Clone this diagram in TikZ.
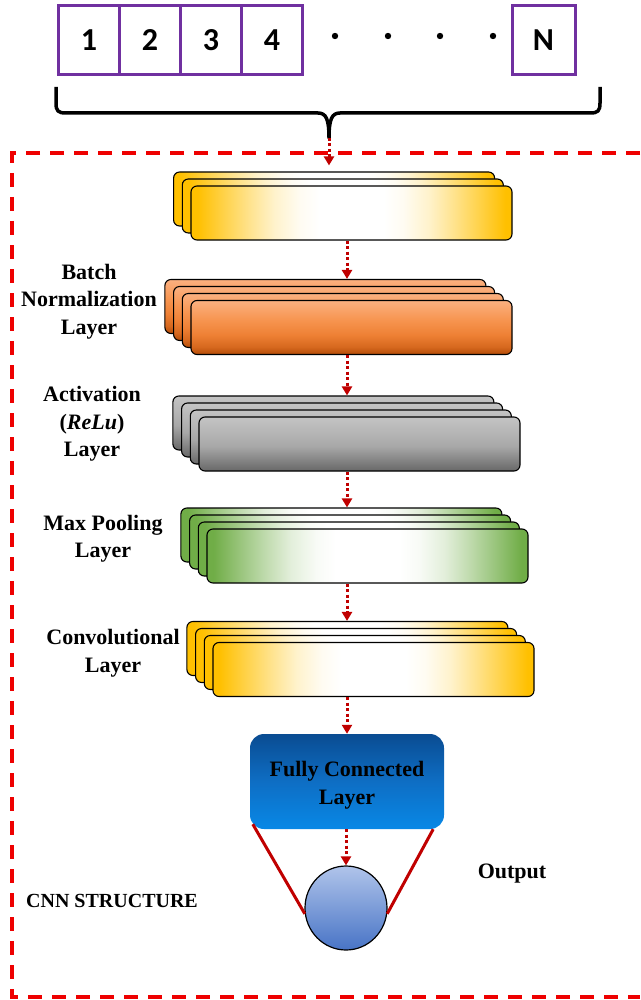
\documentclass[tikz,border=0pt]{standalone}
\usepackage{fontspec}
\setmainfont{Liberation Serif}
\newfontfamily\numfont{Carlito}
\usetikzlibrary{arrows.meta,shapes.geometric,calc}

% palette
\definecolor{boxpurple}{RGB}{112,48,160}
\definecolor{flowred}{RGB}{192,0,0}
\definecolor{frame}{RGB}{238,0,0}
\definecolor{gold}{RGB}{255,192,0}
\definecolor{leaf}{RGB}{112,173,71}
\definecolor{orA}{RGB}{251,176,128}
\definecolor{orB}{RGB}{247,150,82}
\definecolor{orC}{RGB}{238,128,52}
\definecolor{orD}{RGB}{214,104,30}
\definecolor{orE}{RGB}{180,76,8}
\definecolor{grA}{RGB}{196,196,196}
\definecolor{grB}{RGB}{168,168,168}
\definecolor{grC}{RGB}{104,104,104}
\definecolor{blA}{RGB}{10,76,146}
\definecolor{blB}{RGB}{14,110,196}
\definecolor{blC}{RGB}{8,136,230}
\definecolor{ciA}{RGB}{176,196,234}
\definecolor{ciB}{RGB}{72,116,198}

% shadings (the 25bp..75bp band is mapped onto the shaded box)
\pgfdeclarehorizontalshading{goldglow}{100bp}{color(0bp)=(gold); color(26bp)=(gold);
  color(30bp)=(gold!72!white); color(34bp)=(gold!45!white); color(38bp)=(gold!20!white);
  color(42bp)=(gold!5!white); color(45bp)=(white); color(55bp)=(white);
  color(58bp)=(gold!5!white); color(62bp)=(gold!20!white); color(66bp)=(gold!45!white);
  color(70bp)=(gold!72!white); color(74bp)=(gold); color(100bp)=(gold)}
\pgfdeclarehorizontalshading{leafglow}{100bp}{color(0bp)=(leaf); color(26bp)=(leaf);
  color(30bp)=(leaf!72!white); color(34bp)=(leaf!45!white); color(38bp)=(leaf!20!white);
  color(42bp)=(leaf!5!white); color(45bp)=(white); color(55bp)=(white);
  color(58bp)=(leaf!5!white); color(62bp)=(leaf!20!white); color(66bp)=(leaf!45!white);
  color(70bp)=(leaf!72!white); color(74bp)=(leaf); color(100bp)=(leaf)}
\pgfdeclareverticalshading{orangefade}{100bp}{color(0bp)=(orE); color(25bp)=(orE);
  color(32bp)=(orD); color(43bp)=(orC); color(58bp)=(orB); color(75bp)=(orA); color(100bp)=(orA)}
\pgfdeclareverticalshading{greyfade}{100bp}{color(0bp)=(grC); color(25bp)=(grC);
  color(48bp)=(grB); color(75bp)=(grA); color(100bp)=(grA)}
\pgfdeclareverticalshading{bluefade}{100bp}{color(0bp)=(blC); color(25bp)=(blC);
  color(50bp)=(blB); color(75bp)=(blA); color(100bp)=(blA)}
\pgfdeclareverticalshading{orbfade}{100bp}{color(0bp)=(ciB); color(25bp)=(ciB);
  color(75bp)=(ciA); color(100bp)=(ciA)}

\tikzset{
  numbox/.style={draw=boxpurple, line width=3pt, minimum width=61pt, minimum height=69pt,
    inner sep=0pt, font=\numfont\bfseries\fontsize{32}{32}\selectfont},
  sheet/.style={draw=black, line width=1.1pt, rounded corners=6pt,
    minimum width=321pt, minimum height=54pt, inner sep=0pt},
  label/.style={align=center, inner sep=0pt, font=\fontsize{22}{27.5}\selectfont\bfseries},
  flow/.style={draw=flowred, line width=3pt, dash pattern=on 3pt off 2.5pt,
    -{Triangle[width=10pt,length=9pt]}},
  sideline/.style={draw=flowred, line width=3pt},
  bracepen/.style={draw=black, line width=3.5pt, line join=round},
  framepen/.style={draw=frame, line width=3.3pt, dash pattern=on 14pt off 10pt}
}

% stack of sheets: name, count, front centre x, front centre y, fill style
\newcommand\sheetstack[5]{%
  \foreach \k in {#2,...,1}{%
    \node[sheet,#5] (#1\k) at ({#3-(\k-1)*8.7},{#4-(\k-1)*7}) {};
  }%
}

\begin{document}
\begin{tikzpicture}[x=1pt,y=-1pt]
\useasboundingbox (0,0) rectangle (640,1000);

% input sequence
\node[numbox] (n1) at (89,40) {1};
\node[numbox] (n2) at (150,40) {2};
\node[numbox] (n3) at (211,40) {3};
\node[numbox] (n4) at (272,40) {4};
\node[numbox, minimum width=63pt] (nN) at (543.5,40) {N};
\foreach \x in {335,388,440,493} \fill (\x,36) circle (3.2pt);

% brace gathering the inputs
\coordinate (bt) at (329,138);
\draw[bracepen] (56,87) -- (56,103) .. controls (56,111) and (58,113) .. (66,113)
  -- (318,113) .. controls (326,113) and (329,119) .. (bt)
  .. controls (329,119) and (332,113) .. (340,113)
  -- (590,113) .. controls (598,113) and (600,111) .. (600,103) -- (600,87);

% CNN frame
\draw[framepen] (640,153) -- (12,153) -- (12,997) -- (640,997);

% layer stacks
\sheetstack{la}{3}{351.5}{213}{shading=goldglow}
\sheetstack{lb}{4}{351.5}{327.5}{shading=orangefade}
\sheetstack{lc}{4}{359.5}{444}{shading=greyfade}
\sheetstack{ld}{4}{367.5}{556}{shading=leafglow}
\sheetstack{le}{4}{373.5}{669.5}{shading=goldglow}

% fully connected layer and output
\node[shading=bluefade, rounded corners=14pt, minimum width=194pt, minimum height=95pt]
  (fc) at (347,781.5) {};
\node[label] (fct) at (347,785) {Fully Connected\\Layer};
\node[ellipse, draw=black, line width=1.2pt, shading=orbfade, minimum width=82pt, minimum height=84pt, inner sep=0pt]
  (out) at (346,908) {};

% side labels
\node[label] (tbn) at (89,301.5) {Batch\\Normalization\\Layer};
\node[label] (tact) at (92,424) {Activation\\(\textit{ReLu})\\Layer};
\node[label] (tmp) at (103,538.5) {Max Pooling\\Layer};
\node[label] (tconv) at (113,653) {Convolutional\\Layer};
\node[label] (tout) at (512,874) {Output};
\node[label, font=\fontsize{20}{24}\selectfont\bfseries] (tcnn) at (112,901) {CNN STRUCTURE};

% data flow
\draw[flow, shorten >=6pt] (bt) -- (bt |- la3.north);
\draw[flow] (la1.south -| fc.north) -- (lb4.north -| fc.north);
\draw[flow] (lb1.south -| fc.north) -- (lc4.north -| fc.north);
\draw[flow] (lc1.south -| fc.north) -- (ld4.north -| fc.north);
\draw[flow] (ld1.south -| fc.north) -- (le4.north -| fc.north);
\draw[flow] (le1.south -| fc.north) -- (fc.north);
\draw[flow] (fc.south -| out.north) -- (out.north);

% funnel into the output unit
\draw[sideline] ([xshift=3pt,yshift=5pt]fc.south west) -- (out.188);
\draw[sideline] ([xshift=-11pt]fc.south east) -- (out.-8);
\end{tikzpicture}
\end{document}
